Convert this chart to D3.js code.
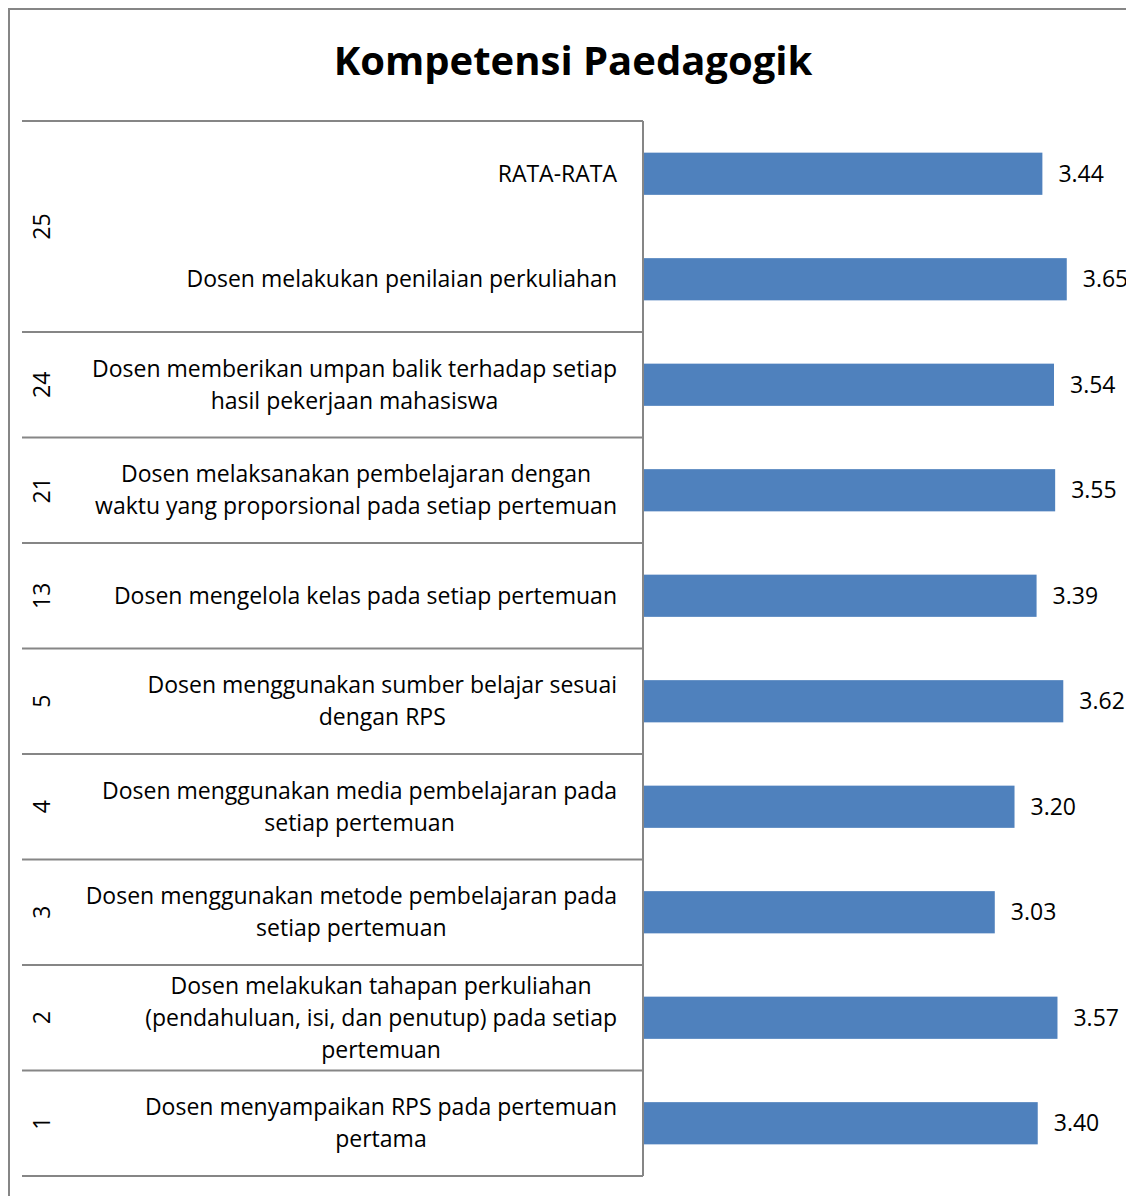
<!DOCTYPE html>
<html>
<head>
<meta charset="utf-8">
<script src="https://cdn.jsdelivr.net/npm/d3@7"></script>
<style>
  body { margin: 0; background: #fff; }
  text { font-family: 'Open Sans', sans-serif; fill: #000; }
</style>
</head>
<body>
<div id="chart"></div>
<script>
/*************************************/
/* Data                              */
/*************************************/

// Question numbers (outer category level), top to bottom
const groups = ['25', '25', '24', '21', '13', '5', '4', '3', '2', '1'];

// Question texts (inner category level)
const items = [
  'RATA-RATA',
  'Dosen melakukan penilaian perkuliahan',
  'Dosen memberikan umpan balik terhadap setiap hasil pekerjaan mahasiswa',
  'Dosen melaksanakan pembelajaran dengan waktu yang proporsional pada setiap pertemuan',
  'Dosen mengelola kelas pada setiap pertemuan',
  'Dosen menggunakan sumber belajar sesuai dengan RPS',
  'Dosen menggunakan media pembelajaran pada setiap pertemuan',
  'Dosen menggunakan metode pembelajaran pada setiap pertemuan',
  'Dosen melakukan tahapan perkuliahan (pendahuluan, isi, dan penutup) pada setiap pertemuan',
  'Dosen menyampaikan RPS pada pertemuan pertama'
];

// Mean scores
const values = [3.44, 3.65, 3.54, 3.55, 3.39, 3.62, 3.20, 3.03, 3.57, 3.40];

const title = 'Kompetensi Paedagogik';


/*************************************/
/* Layout                            */
/*************************************/

const width = 1126;
const height = 1196;
const axisX = 643;
const plotTop = 121;
const plotBottom = 1176;
const labelRight = 617;
const wrapWidth = 536;
const fontSize = '23px';

const rows = items.map((d, i) => ({ group: groups[i], item: d, value: values[i], key: i }));

const y = d3.scaleBand()
  .domain(rows.map(d => d.key))
  .range([plotTop, plotBottom])
  .paddingInner(0)
  .paddingOuter(0);

const x = d3.scaleLinear()
  .domain([0, 4])
  .range([axisX, axisX + 4 * 116.1]);

const svg = d3.select('#chart')
  .append('svg')
  .attr('width', width)
  .attr('height', height);

// Chart border
svg.append('rect')
  .attr('x', 9)
  .attr('y', 9)
  .attr('width', width + 20)
  .attr('height', height + 20)
  .attr('fill', 'none')
  .attr('stroke', '#868686')
  .attr('stroke-width', 2);

// Title
svg.append('text')
  .attr('x', 573)
  .attr('y', 75)
  .attr('text-anchor', 'middle')
  .style('font-size', '40px')
  .style('font-weight', 'bold')
  .text(title);

// Bars
svg.append('g')
  .selectAll('rect')
  .data(rows)
  .join('rect')
    .attr('x', x(0))
    .attr('y', d => y(d.key) + y.bandwidth() * 0.3)
    .attr('width', d => x(d.value) - x(0))
    .attr('height', y.bandwidth() * 0.4)
    .attr('fill', '#4f81bd');

// Value labels
svg.append('g')
  .selectAll('text')
  .data(rows)
  .join('text')
    .attr('x', d => x(d.value) + 16)
    .attr('y', d => y(d.key) + y.bandwidth() / 2)
    .attr('dy', '0.35em')
    .style('font-size', fontSize)
    .text(d => d.value.toFixed(2));

// Group separator lines
const groupEdges = [plotTop];
rows.forEach((d, i) => {
  if (i === rows.length - 1 || rows[i + 1].group !== d.group) groupEdges.push(y(d.key) + y.bandwidth());
});

svg.append('g')
  .selectAll('line')
  .data(groupEdges)
  .join('line')
    .attr('x1', 22)
    .attr('x2', axisX)
    .attr('y1', d => d)
    .attr('y2', d => d)
    .attr('stroke', '#868686')
    .attr('stroke-width', 2);

// Category axis line
svg.append('line')
  .attr('x1', axisX)
  .attr('x2', axisX)
  .attr('y1', plotTop)
  .attr('y2', plotBottom)
  .attr('stroke', '#868686')
  .attr('stroke-width', 2);

// Group labels (rotated)
const groupSpans = d3.groups(rows, d => d.group).map(([g, r]) => ({
  group: g,
  y0: y(r[0].key),
  y1: y(r[r.length - 1].key) + y.bandwidth()
}));

svg.append('g')
  .selectAll('text')
  .data(groupSpans)
  .join('text')
    .attr('transform', d => `translate(42,${(d.y0 + d.y1) / 2}) rotate(-90)`)
    .attr('text-anchor', 'middle')
    .attr('dy', '0.35em')
    .style('font-size', fontSize)
    .text(d => d.group);

// Item labels, wrapped and centered as a block against the axis
const itemLabels = svg.append('g')
  .selectAll('text')
  .data(rows)
  .join('text')
    .attr('text-anchor', 'middle')
    .style('font-size', fontSize);

itemLabels.each(function(d) {
  const t = d3.select(this);
  const words = d.item.split(' ');
  const lines = [];
  let line = [];
  const probe = t.append('tspan');
  words.forEach(w => {
    const test = line.concat(w).join(' ');
    probe.text(test);
    if (probe.node().getComputedTextLength() > wrapWidth && line.length) {
      lines.push(line.join(' '));
      line = [w];
    } else {
      line.push(w);
    }
  });
  lines.push(line.join(' '));
  probe.remove();

  const widths = lines.map(l => {
    const s = t.append('tspan').text(l);
    const w = s.node().getComputedTextLength();
    s.remove();
    return w;
  });
  const cx = labelRight - d3.max(widths) / 2;
  const lh = 32;
  const cy = y(d.key) + y.bandwidth() / 2 - (lines.length - 1) * lh / 2;

  lines.forEach((l, i) => {
    t.append('tspan')
      .attr('x', cx)
      .attr('y', cy + i * lh)
      .attr('dy', '0.35em')
      .text(l);
  });
});
</script>
</body>
</html>
